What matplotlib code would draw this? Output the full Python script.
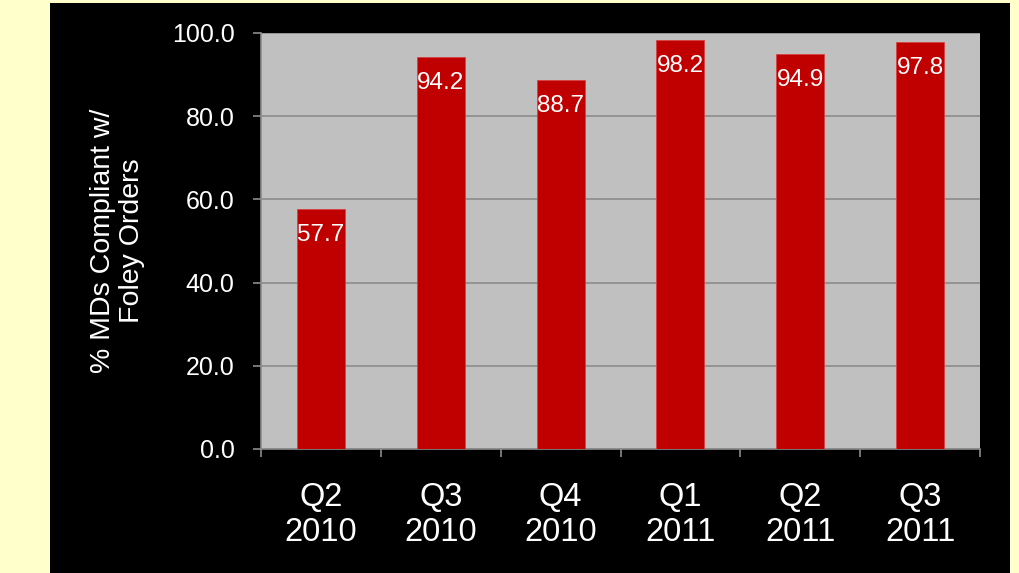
import matplotlib.pyplot as plt
from matplotlib.patches import Rectangle

quarters = ["Q2\n2010", "Q3\n2010", "Q4\n2010", "Q1\n2011", "Q2\n2011", "Q3\n2011"]
compliance = [57.7, 94.2, 88.7, 98.2, 94.9, 97.8]
y_ticks = [0, 20, 40, 60, 80, 100]

plt.rcParams['font.family'] = ['Liberation Sans', 'DejaVu Sans']

fig = plt.figure(figsize=(10.2, 5.73), dpi=100)
fig.patch.set_facecolor('#FFFFCC')
# black slide panel behind the chart
fig.patches.append(Rectangle((50 / 1020, 0), 960 / 1020, 570 / 573,
                             transform=fig.transFigure, facecolor='black',
                             edgecolor='none', zorder=-1))

ax = fig.add_axes([261 / 1020, (573 - 449) / 573, 719 / 1020, 416 / 573])
ax.set_facecolor('#C0C0C0')

x = range(len(quarters))
bars = ax.bar(x, compliance, width=0.4, color='#C00000', edgecolor='#D84040',
              linewidth=0.6, zorder=3)
for b, v in zip(bars, compliance):
    ax.annotate(f"{v:.1f}", (b.get_x() + b.get_width() / 2, v),
                xytext=(0, -26), textcoords='offset pixels',
                ha='center', va='center', color='white', fontsize=17.5, zorder=4)

ax.set_xlim(-0.5, len(quarters) - 0.5)
ax.set_ylim(0, 100)
ax.set_yticks(y_ticks)
ax.set_yticklabels([f"{t:.1f}" for t in y_ticks])
ax.yaxis.grid(True, color='#8C8C8C', linewidth=1.2, zorder=1)
ax.set_axisbelow(True)

# major ticks between categories, labels on minor ticks at bar centres
ax.set_xticks([i + 0.5 for i in range(-1, len(quarters))])
ax.set_xticklabels([])
ax.set_xticks(list(x), minor=True)
ax.set_xticklabels(quarters, minor=True, fontsize=23.5, color='white',
                   linespacing=1.15)
ax.tick_params(axis='x', which='minor', length=0, pad=24)
ax.tick_params(axis='x', which='major', length=6, width=1.2, color='#8C8C8C')
ax.tick_params(axis='y', length=6, width=1.2, color='#8C8C8C',
               labelsize=18, labelcolor='white', pad=13)

for side in ['top', 'right']:
    ax.spines[side].set_visible(False)
for side in ['left', 'bottom']:
    ax.spines[side].set_color('#8C8C8C')
    ax.spines[side].set_linewidth(1.2)

ax.set_ylabel("% MDs Compliant w/\nFoley Orders", color='white', fontsize=20.5,
              linespacing=1.15, labelpad=19)

fig.savefig("out.png", dpi=100, facecolor=fig.get_facecolor())
